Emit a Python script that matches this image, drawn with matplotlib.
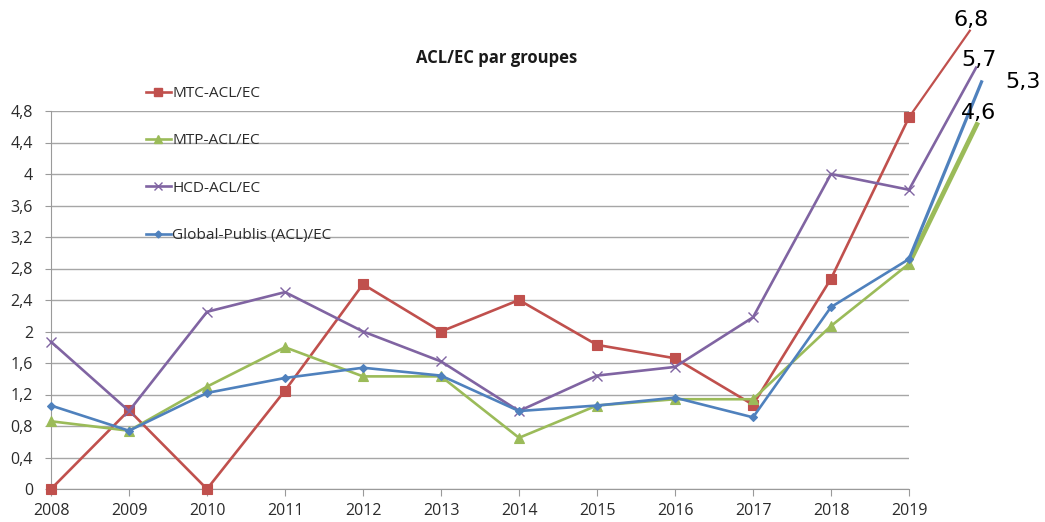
import matplotlib
matplotlib.use('Agg')
import matplotlib.pyplot as plt
from matplotlib.lines import Line2D

years = [2008, 2009, 2010, 2011, 2012, 2013, 2014, 2015, 2016, 2017, 2018, 2019]
mtc = [0, 1.0, 0, 1.25, 2.6, 2.0, 2.4, 1.83, 1.66, 1.07, 2.67, 4.72]
mtp = [0.86, 0.74, 1.30, 1.80, 1.43, 1.43, 0.65, 1.06, 1.14, 1.14, 2.07, 2.86]
hcd = [1.87, 0.99, 2.25, 2.50, 2.0, 1.62, 0.99, 1.44, 1.55, 2.18, 4.0, 3.8]
glob = [1.06, 0.74, 1.22, 1.41, 1.54, 1.44, 0.99, 1.06, 1.16, 0.91, 2.31, 2.92]
series_names = ['MTC-ACL/EC', 'MTP-ACL/EC', 'HCD-ACL/EC', 'Global-Publis (ACL)/EC']

# hand-drawn extensions past 2019 (drawn position, not to scale) and their labels
ext_x = [2019.78, 2019.87, 2019.86, 2019.93]
ext_y = [5.82, 4.63, 5.35, 5.17]
ext_labels = ['6,8', '4,6', '5,7', '5,3']

yticks = [0, 0.4, 0.8, 1.2, 1.6, 2, 2.4, 2.8, 3.2, 3.6, 4, 4.4, 4.8]

plt.rcParams['font.family'] = ['Open Sans', 'DejaVu Sans']

fig = plt.figure(figsize=(10.45, 5.22), dpi=100)
ax = fig.add_axes([51 / 1045, 33 / 522, (909 - 51) / 1045, (489 - 111) / 522])

colors = ['#C0504D', '#9BBB59', '#8064A2', '#4F81BD']
markers = ['s', '^', 'x', 'D']
msizes = [6.5, 6.5, 6.5, 4.5]
ext_lw = [1.6, 3.4, 1.9, 2.3]
data = [mtc, mtp, hcd, glob]

handles = []
for vals, c, m, ms, name in zip(data, colors, markers, msizes, series_names):
    ax.plot(years, vals, color=c, lw=1.9, marker=m, markersize=ms,
            markeredgewidth=1 if m == 'x' else 0.8, markerfacecolor=c, markeredgecolor=c,
            clip_on=False, zorder=3)
    handles.append(Line2D([0], [0], color=c, lw=1.9, marker=m, markersize=ms - 1,
                          markerfacecolor=c, markeredgecolor=c))

for vals, ex, ey, c, lw in zip(data, ext_x, ext_y, colors, ext_lw):
    ax.plot([years[-1], ex], [vals[-1], ey], color=c, lw=lw, clip_on=False, zorder=2)

ax.set_xlim(2008, 2019)
ax.set_ylim(0, 4.8)
ax.set_xticks(years)
ax.set_xticklabels([str(y) for y in years])
ax.set_yticks(yticks)
ax.set_yticklabels([('%g' % t).replace('.', ',') for t in yticks])
ax.grid(axis='y', color='#a6a6a6', lw=1)
ax.set_axisbelow(True)
for s in ['top', 'right']:
    ax.spines[s].set_visible(False)
for s in ['left', 'bottom']:
    ax.spines[s].set_color('#9a9a9a')
ax.tick_params(axis='x', length=5, color='#9a9a9a', labelsize=11.5, labelcolor='#2b2b2b', pad=5)
ax.tick_params(axis='y', length=4, color='#9a9a9a', labelsize=11.5, labelcolor='#2b2b2b', pad=9)

fig.text(497 / 1045, 1 - 58 / 522, 'ACL/EC par groupes', ha='center', va='center',
         fontsize=12, fontweight='bold', color='#1a1a1a')

fig.legend(handles, series_names, loc='upper left', bbox_to_anchor=(146 / 1045, 1 - 86 / 522),
           frameon=False, fontsize=11.1, labelspacing=2.1, handlelength=1.6,
           handletextpad=0.1, borderpad=0, borderaxespad=0, labelcolor='#2b2b2b')

label_pos = [(971, 20), (979, 113), (979, 60), (1023, 82)]
for (px, py), txt in zip(label_pos, ext_labels):
    fig.text(px / 1045, 1 - py / 522, txt, ha='center', va='center', fontsize=16,
             family='DejaVu Sans', color='black')

fig.savefig('out.png', dpi=100)
